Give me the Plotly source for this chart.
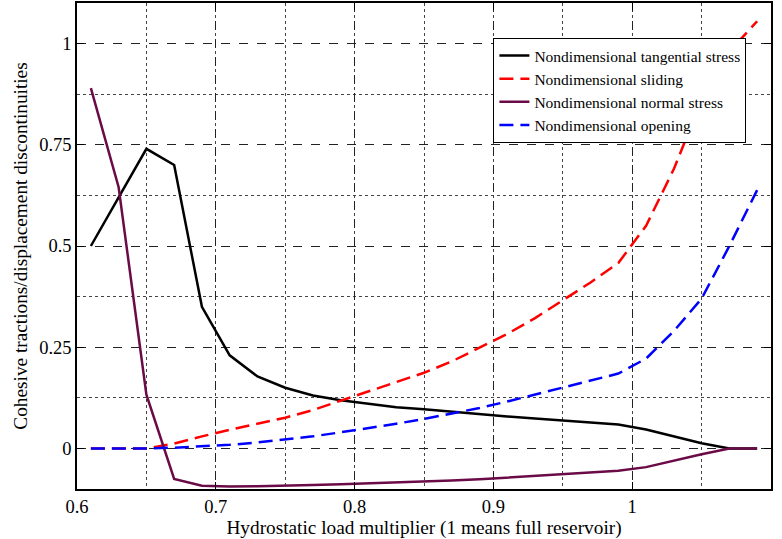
import plotly.graph_objects as go

load = [0.61, 0.63, 0.65, 0.67, 0.69, 0.71, 0.73, 0.75, 0.77, 0.79, 0.81, 0.83, 0.85,
        0.87, 0.89, 0.91, 0.93, 0.95, 0.97, 0.99, 1.01, 1.03, 1.05, 1.07, 1.09]
tangential = [0.50, 0.62, 0.74, 0.70, 0.35, 0.23, 0.178, 0.150, 0.131, 0.119, 0.110, 0.102, 0.097,
              0.091, 0.084, 0.079, 0.074, 0.069, 0.064, 0.059, 0.047, 0.030, 0.013, 0.0, 0.0]
sliding = [0.0, 0.0, 0.0, 0.012, 0.030, 0.046, 0.061, 0.076, 0.095, 0.118, 0.140, 0.163, 0.187,
           0.215, 0.248, 0.283, 0.322, 0.365, 0.410, 0.458, 0.550, 0.690, 0.860, 0.980, 1.055]
normal = [0.89, 0.645, 0.133, -0.075, -0.092, -0.094, -0.093, -0.092, -0.090, -0.088, -0.086, -0.084, -0.082,
          -0.079, -0.076, -0.072, -0.068, -0.064, -0.060, -0.055, -0.046, -0.030, -0.014, 0.0, 0.0]
opening = [0.0, 0.0, 0.0, 0.002, 0.005, 0.009, 0.015, 0.022, 0.030, 0.040, 0.050, 0.061, 0.073,
           0.086, 0.100, 0.116, 0.133, 0.150, 0.167, 0.185, 0.222, 0.290, 0.370, 0.500, 0.638]

names = ["Nondimensional tangential stress", "Nondimensional sliding",
         "Nondimensional normal stress", "Nondimensional opening"]
x_ticks = [0.6, 0.7, 0.8, 0.9, 1.0, 1.1]
x_tick_labels = ["0.6", "0.7", "0.8", "0.9", "1", "1.1"]
y_ticks = [0, 0.25, 0.5, 0.75, 1.0]
y_tick_labels = ["0", "0.25", "0.5", "0.75", "1"]

FONT = "Liberation Serif, Times New Roman, serif"
fig = go.Figure()
fig.add_trace(go.Scatter(x=load, y=tangential, name=names[0], mode="lines",
                         line=dict(color="black", width=2.5)))
fig.add_trace(go.Scatter(x=load, y=sliding, name=names[1], mode="lines",
                         line=dict(color="#ff0000", width=2.5, dash="14px,7px")))
fig.add_trace(go.Scatter(x=load, y=normal, name=names[2], mode="lines",
                         line=dict(color="#6a0a46", width=2.5)))
fig.add_trace(go.Scatter(x=load, y=opening, name=names[3], mode="lines",
                         line=dict(color="#0000ff", width=2.5, dash="14px,7px")))

axis_common = dict(
    showline=True, linecolor="black", linewidth=1.5, mirror="ticks",
    ticks="inside", ticklen=7, tickcolor="black", tickwidth=1,
    showgrid=True, gridcolor="#222222", griddash="dash", gridwidth=1,
    zeroline=False, automargin=False,
    tickfont=dict(family=FONT, size=18.5, color="black"),
)

fig.update_xaxes(
    range=[0.6, 1.1], tickvals=x_ticks, ticktext=x_tick_labels,
    minor=dict(dtick=0.05, showgrid=True, gridcolor="#444444", griddash="dot", gridwidth=1),
    title=dict(text="Hydrostatic load multiplier (1 means full reservoir)",
               font=dict(family=FONT, size=19.3, color="black"), standoff=2),
    **axis_common)
fig.update_yaxes(
    range=[-0.1, 1.1], tickvals=y_ticks, ticktext=y_tick_labels,
    minor=dict(tickvals=[-0.125, 0.125, 0.375, 0.625, 0.875], showgrid=True,
               gridcolor="#444444", griddash="dot", gridwidth=1),
    title=dict(text="Cohesive tractions/displacement discontinuities",
               font=dict(family=FONT, size=19.3, color="black"), standoff=6),
    **axis_common)

fig.update_layout(
    width=782, height=539,
    margin=dict(l=77, r=11, t=3, b=50, autoexpand=False),
    paper_bgcolor="white", plot_bgcolor="white",
    font=dict(family=FONT, color="black"),
    showlegend=True,
    legend=dict(x=0.6, y=0.928, xanchor="left", yanchor="top",
                bgcolor="white", bordercolor="black", borderwidth=1,
                font=dict(family=FONT, size=15.5, color="black"),
                itemwidth=30, tracegroupgap=0),
)

fig.write_html("out.html", config={"displayModeBar": False},
               post_script="document.body.style.margin='0';")
